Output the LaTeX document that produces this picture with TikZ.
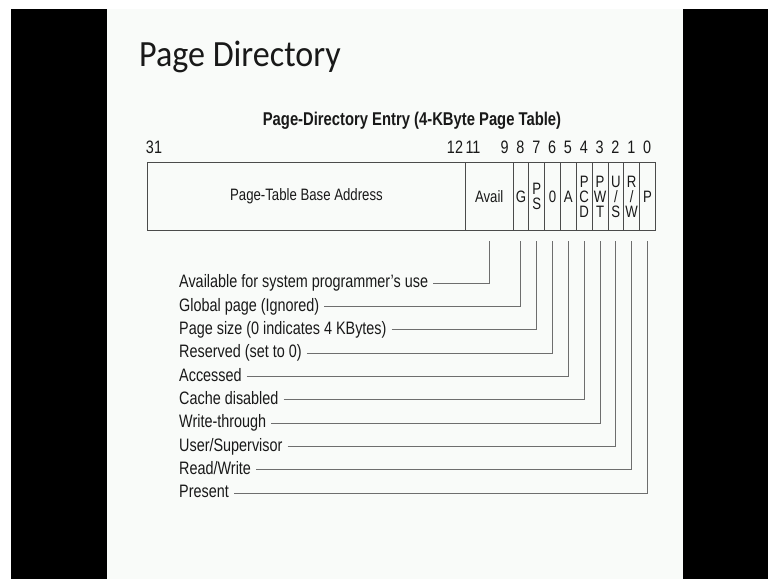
\documentclass[tikz,border=0pt]{standalone}
\usepackage{fontspec}
\setmainfont{Liberation Sans}[FakeStretch=0.8]
\newfontfamily\titlefont{Carlito}[FakeStretch=0.92]
\definecolor{ink}{RGB}{25,25,25}
\definecolor{rule}{RGB}{110,110,110}
\definecolor{frame}{RGB}{75,75,75}
\definecolor{slide}{RGB}{249,251,249}
\tikzset{
  field/.style={draw=frame, line width=0.9pt, minimum height=68pt, inner sep=0pt,
    anchor=north west, text=ink, align=center, font=\fontsize{16.5}{15}\selectfont},
  bitno/.style={anchor=base, inner sep=0pt, text=ink, font=\fontsize{18}{18}\selectfont},
  flag/.style={anchor=west, inner xsep=5pt, inner ysep=0pt, text height=13pt,
    text depth=3.5pt, text=ink, font=\fontsize{18}{18}\selectfont},
  lead/.style={draw=rule, line width=0.9pt, shorten >=10pt}
}
\begin{document}
\begin{tikzpicture}[x=1pt,y=-1pt]
\useasboundingbox (0,0) rectangle (768,579);
\fill[white] (0,0) rectangle (768,579);
\fill[slide] (107,9) rectangle (683,579);
\fill[black] (11,9) rectangle (107,579);
\fill[black] (683,9) rectangle (768,579);
\node[anchor=base west, inner sep=0pt, text=ink, font=\titlefont\fontsize{37}{37}\selectfont] (title) at (139,66) {Page Directory};
\node[anchor=base, inner sep=0pt, text=ink, font=\bfseries\fontsize{18.5}{18}\selectfont] (entry) at (412,125) {Page-Directory Entry (4-KByte Page Table)};
\def\bw{15.83}
\node[field, minimum width=318pt] (base) at (147,162) {Page-Table Base Address};
\node[field, minimum width=47.5pt] (avail) at (465,162) {Avail};
\foreach \nm/\b/\txt in {g/8/G, ps/7/{P\\S}, zero/6/0, a/5/A, pcd/4/{P\\C\\D},
    pwt/3/{P\\W\\T}, us/2/{U\\/\\S}, rw/1/{R\\/\\W}, p/0/P}
  \node[field, minimum width=\bw pt] (\nm) at ({655-(\b+1)*\bw},162) {\txt};
\node[bitno] (n31) at (154,153) {31};
\node[bitno] (n12) at (455,153) {12};
\node[bitno] (n11) at (473,153) {11};
\foreach \b in {0,...,9}
  \node[bitno] (n\b) at ({655-(\b+0.5)*\bw},153) {\b};
\foreach \nm/\txt [count=\i from 0] in {avail/Available for system programmer’s use,
    g/Global page (Ignored), ps/Page size (0 indicates 4 KBytes), zero/Reserved (set to 0),
    a/Accessed, pcd/Cache disabled, pwt/Write-through, us/{User/Supervisor},
    rw/{Read/Write}, p/Present}
  {
  \node[flag] (f\nm) at (174,{283+\i*23.33}) {\txt};
  \draw[lead] (f\nm) -| (\nm.south);
  }
\end{tikzpicture}
\end{document}
